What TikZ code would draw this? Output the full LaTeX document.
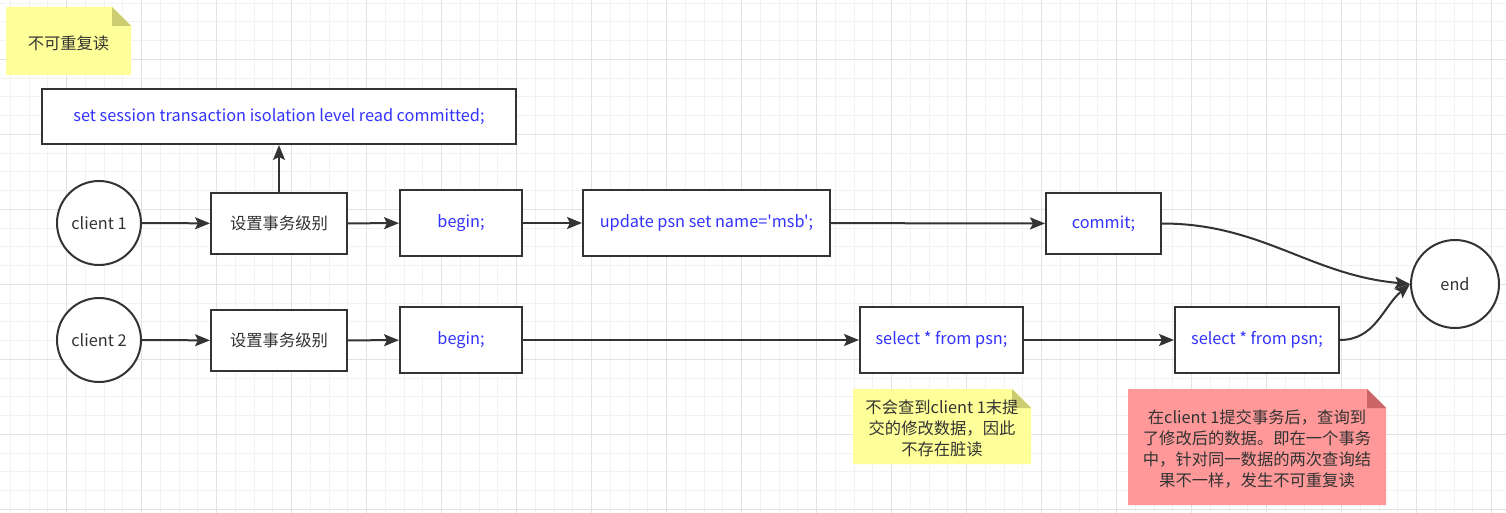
\documentclass[tikz,border=0pt]{standalone}
\usepackage{fontspec}
\setmainfont{Noto Sans CJK SC}[Ligatures=TeXOff]
\usepackage{tikz}
\usepackage{xcolor}
\usetikzlibrary{arrows.meta, positioning}

\definecolor{ink}{HTML}{333333}
\definecolor{sqlblue}{HTML}{3333FF}
\definecolor{minorline}{HTML}{F2F2F2}
\definecolor{majorline}{HTML}{E2E2E2}
\definecolor{noteyellow}{HTML}{FFFF99}
\definecolor{foldyellow}{HTML}{CCCC70}
\definecolor{notered}{HTML}{FF9999}
\definecolor{foldred}{HTML}{CC6666}

\tikzset{
    client/.style={circle, draw=ink, line width=2pt, fill=white, minimum size=84pt, text=ink},
    stepbox/.style={rectangle, draw=ink, line width=2pt, fill=white, minimum width=136pt, minimum height=61pt, text=ink},
    sqlbox/.style={stepbox, text=sqlblue, minimum height=66pt},
    notetext/.style={align=center, text=ink, inner sep=0pt},
    flow/.style={draw=ink, line width=2pt, -{Stealth[length=15pt, width=12pt, inset=3pt]}}
}

\begin{document}
\begin{tikzpicture}[x=1pt, y=-1pt, font=\fontsize{16.3pt}{21pt}\selectfont]
                        \useasboundingbox[fill=white] (0, 0) rectangle (1506, 513);

                        \foreach \gx in {10.45, 29.2, ..., 1506} \draw[minorline, line width=1pt] (\gx, 0) -- (\gx, 513);
                        \foreach \gy in {3.05, 21.8, ..., 513} \draw[minorline, line width=1pt] (0, \gy) -- (1506, \gy);
                        \foreach \gx in {66.7, 141.7, ..., 1506} \draw[majorline, line width=1pt] (\gx, 0) -- (\gx, 513);
                        \foreach \gy in {59.3, 134.3, ..., 513} \draw[majorline, line width=1pt] (0, \gy) -- (1506, \gy);

                        \fill[noteyellow] (6, 7) -- (112, 7) -- (131, 26) -- (131, 75) -- (6, 75) -- cycle;
                        \fill[foldyellow] (112, 7) -- (112, 26) -- (131, 26) -- cycle;
                        \fill[noteyellow] (853, 389) -- (1012, 389) -- (1031, 408) -- (1031, 464) -- (853, 464) -- cycle;
                        \fill[foldyellow] (1012, 389) -- (1012, 408) -- (1031, 408) -- cycle;
                        \fill[notered] (1128, 389) -- (1367, 389) -- (1386, 408) -- (1386, 505) -- (1128, 505) -- cycle;
                        \fill[foldred] (1367, 389) -- (1367, 408) -- (1386, 408) -- cycle;

                        \node[notetext] (repeatnote) at (68.5, 43) {不可重复读};
                        \node[notetext] (dirtynote) at (942, 428) {不会查到client 1末提\\交的修改数据，因此\\不存在脏读};
                        \node[notetext] (phantomnote) at (1257, 449) {在client 1提交事务后，查询到\\了修改后的数据。即在一个事务\\中，针对同一数据的两次查询结\\果不一样，发生不可重复读};

                        \node[sqlbox, minimum width=474pt, minimum height=55pt] (setlevel) at (279, 116.5) {set session transaction isolation level read committed;};

                        \node[client] (client1) at (99, 223) {client 1};
                        \node[stepbox] (level1) at (279, 223.5) {设置事务级别};
                        \node[sqlbox, minimum width=122pt] (begin1) at (461, 223) {begin;};
                        \node[sqlbox, minimum width=247pt] (update) at (706.5, 223) {update psn set name='msb';};
                        \node[sqlbox, minimum width=115pt, minimum height=61pt] (commit) at (1103.5, 223.5) {commit;};

                        \node[client] (client2) at (99, 340) {client 2};
                        \node[stepbox] (level2) at (279, 340.5) {设置事务级别};
                        \node[sqlbox, minimum width=122pt] (begin2) at (461, 340) {begin;};
                        \node[sqlbox, minimum width=163pt] (select1) at (941.5, 340) {select * from psn;};
                        \node[sqlbox, minimum width=164pt] (select2) at (1257, 340) {select * from psn;};

                        \node[client, minimum size=88pt] (finish) at (1455, 284) {end};

                        \draw[flow] (level1) -- (setlevel);
                        \draw[flow] (client1) -- (level1);
                        \draw[flow] (level1) -- (begin1);
                        \draw[flow] (begin1) -- (update);
                        \draw[flow] (update) -- (commit);
                        \draw[flow] (commit.east) to[out=0, in=175] (finish.west);

                        \draw[flow] (client2) -- (level2);
                        \draw[flow] (level2) -- (begin2);
                        \draw[flow] (begin2) -- (select1);
                        \draw[flow] (select1) -- (select2);
                        \draw[flow] (select2.east) to[out=0, in=220] (finish.west);
                    \end{tikzpicture}
\end{document}
